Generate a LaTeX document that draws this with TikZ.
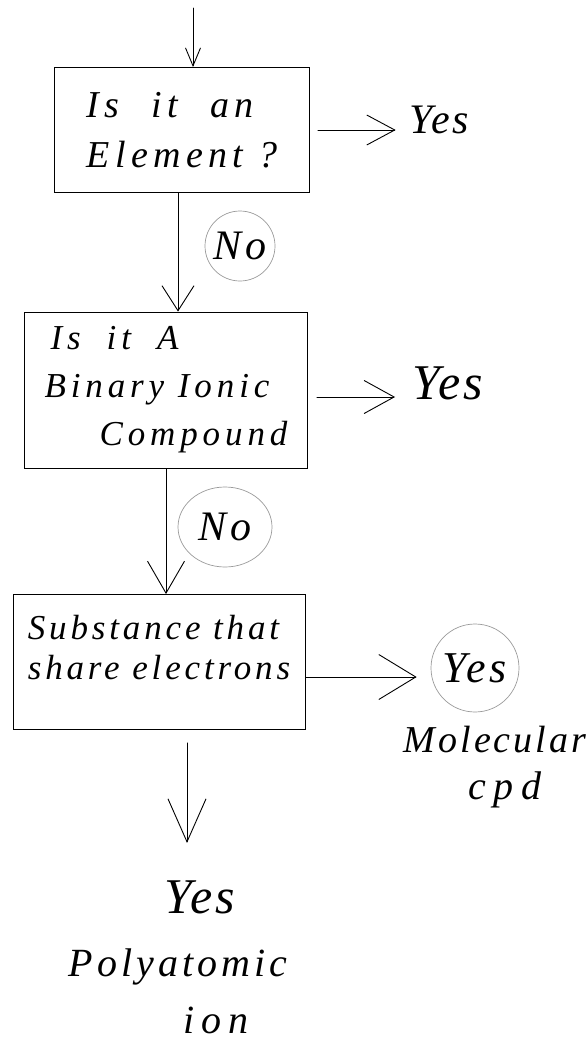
\documentclass[tikz,border=0pt]{standalone}
\usepackage{fontspec}
\usepackage{xcolor}
\usepackage{tikz}
\usetikzlibrary{positioning, arrows.meta, shapes.geometric}
\newfontfamily\handfont{Liberation Serif}
\definecolor{pencil}{HTML}{9A9A9A}

\begin{document}
\begin{tikzpicture}[x=1pt, y=-1pt, line cap=round,
    hw/.style n args={3}{font=\handfont\itshape\addfontfeatures{LetterSpace=#3}\fontsize{#1}{#2}\selectfont},
    qbox/.style={draw, line width=0.9pt, inner sep=0pt, align=left},
    ring/.style={draw=pencil, line width=0.7pt, inner sep=0pt},
    flow/.style 2 args={-{Straight Barb[length=#1, width=#2]}, line width=0.9pt}]
  \useasboundingbox (0,0) rectangle (588,1057);

  % question boxes
  \node[qbox, minimum width=255pt, minimum height=125pt, hw={38}{50}{14}] (elem) at (182,130)
    {Is\hspace{32pt}it\hspace{32pt}an\\Element ?};
  \node[qbox, minimum width=283pt, minimum height=156pt, hw={35}{48}{14}] (ionic) at (166,390)
    {\hspace*{6pt}Is\hspace{26pt}it\hspace{26pt}A\\Binary Ionic\\\hspace*{55pt}Compound};
  \node[qbox, minimum width=292pt, minimum height=135pt, hw={35}{40}{11}] (share) at (159,662)
    {Substance that\\share electrons\\[-10pt]};

  % answers
  \node[hw={42}{42}{6}] (yesA) at (439,120) {Yes};
  \node[hw={50}{50}{6}] (yesB) at (448,383) {Yes};
  \node[ring, circle, minimum size=88pt, hw={44}{44}{8}] (yesC) at (475,668) {Yes};
  \node[hw={38}{38}{8}] (molec) at (495,740) {Molecular};
  \node[hw={40}{40}{18}] (cpd) at (505,790) {cpd};
  \node[hw={50}{50}{6}] (yesD) at (200,897) {Yes};
  \node[hw={40}{40}{10}] (poly) at (178,967) {Polyatomic};
  \node[hw={40}{40}{18}] (ion) at (216,1020) {ion};

  % circled no
  \node[ring, circle, minimum size=70pt, hw={42}{42}{8}] (noA) at (240,246) {No};
  \node[ring, ellipse, minimum width=94pt, minimum height=80pt, hw={42}{42}{8}] (noB) at (225,527) {No};

  \coordinate (start) at (193,8);

  \draw[flow={18pt}{15pt}] (start) -- (start |- elem.north);
  \draw[flow={25pt}{32pt}] ([xshift=-4pt]elem.south) -- ([xshift=-4pt]elem.south |- ionic.north);
  \draw[flow={32pt}{37pt}] (ionic.south) -- (ionic.south |- share.north);
  \draw[flow={43pt}{38pt}] ([xshift=28pt, yshift=-13pt]share.south) -- ([xshift=28pt, yshift=-113pt]share.south);

  \draw[flow={28pt}{30pt}, shorten <=8pt, shorten >=10pt] (elem.east) -- (elem.east -| yesA.west);
  \draw[flow={30pt}{33pt}, shorten <=9pt, shorten >=14pt] ([yshift=-7pt]ionic.east) -- ([yshift=-7pt]ionic.east -| yesB.west);
  \draw[flow={37pt}{45pt}, shorten >=14pt] ([yshift=-15pt]share.east) -- ([yshift=-15pt]share.east -| yesC.west);
\end{tikzpicture}
\end{document}
